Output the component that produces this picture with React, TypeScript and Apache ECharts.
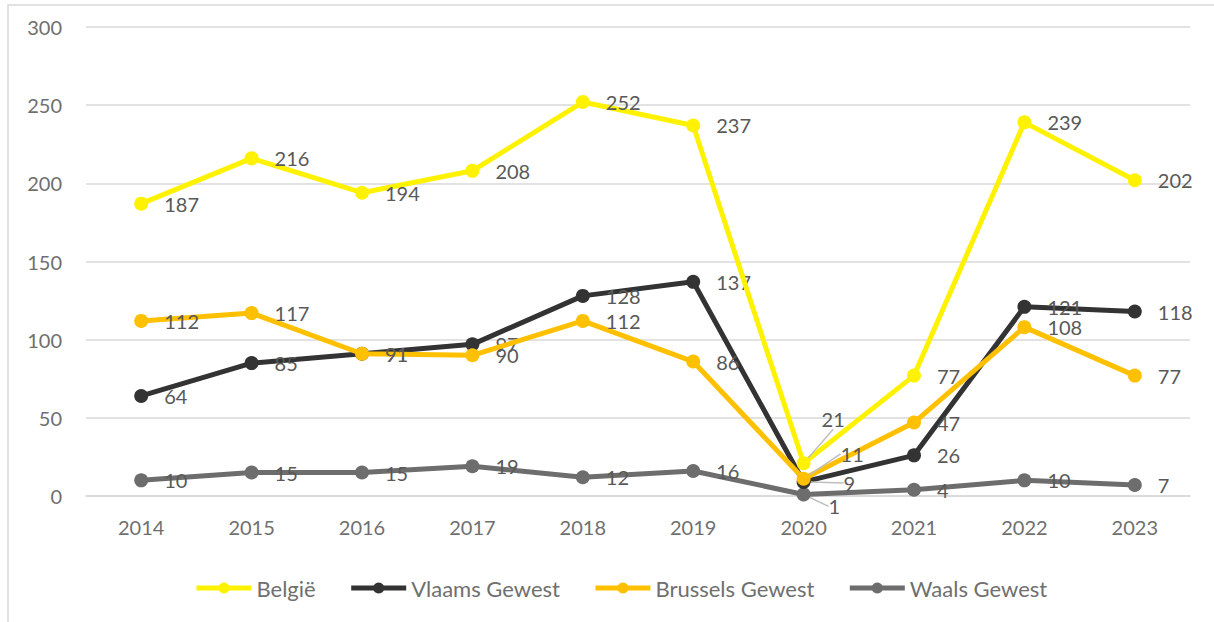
import React, { useEffect, useRef } from "react";
import * as echarts from "echarts";

const years = ["2014", "2015", "2016", "2017", "2018", "2019", "2020", "2021", "2022", "2023"];
const belgie = [187, 216, 194, 208, 252, 237, 21, 77, 239, 202];
const vlaams = [64, 85, 91, 97, 128, 137, 9, 26, 121, 118];
const brussels = [112, 117, 91, 90, 112, 86, 11, 47, 108, 77];
const waals = [10, 15, 15, 19, 12, 16, 1, 4, 10, 7];
const seriesNames = ["België", "Vlaams Gewest", "Brussels Gewest", "Waals Gewest"];
const yTicks = { min: 0, max: 300, interval: 50 };

const FONT = "Lato, 'Open Sans', sans-serif";
const LEADER_INDEX = 6;

export default function App() {
  const ref = useRef<HTMLDivElement>(null);
  useEffect(() => {
    if (!ref.current) return;
    const chart = echarts.init(ref.current, undefined, { renderer: "svg" });

    const mk = (
      name: string,
      data: number[],
      color: string,
      z: number,
      moved: { dx: number; dy: number }
    ) => ({
      name,
      type: "line",
      data: data.map((v, i) =>
        i === LEADER_INDEX ? { value: v, labelLine: { show: true } } : v
      ),
      z,
      symbol: "circle",
      symbolSize: 14,
      lineStyle: { color, width: 5 },
      itemStyle: { color },
      label: {
        show: true,
        position: "right",
        distance: 16,
        offset: [0, 1],
        color: "#595959",
        fontSize: 20,
        fontFamily: FONT,
      },
      labelLine: {
        show: false,
        lineStyle: { color: "#bfbfbf", width: 1.5 },
      },
      labelLayout: (p: any) => {
        if (p.dataIndex === LEADER_INDEX) return { dx: moved.dx, dy: moved.dy };
        return {};
      },
      emphasis: { disabled: true },
    });

    chart.setOption({
      animation: false,
      backgroundColor: "#ffffff",
      textStyle: { fontFamily: FONT },
      grid: { left: 86, right: 24, top: 27, bottom: 126 },
      graphic: [
        {
          type: "rect",
          shape: { x: 8, y: 5, width: 1212, height: 624 },
          style: { fill: "none", stroke: "#d9d9d9", lineWidth: 1.5 },
          silent: true,
        },
      ],
      legend: {
        left: 189,
        top: 572,
        itemWidth: 55,
        itemHeight: 14,
        itemGap: 33,
        lineStyle: { width: 5 },
        textStyle: { color: "#6f6f6f", fontSize: 22, fontFamily: FONT },
        data: seriesNames,
      },
      xAxis: {
        type: "category",
        data: years,
        boundaryGap: true,
        axisTick: { show: false },
        axisLine: { lineStyle: { color: "#d9d9d9", width: 1.5 } },
        axisLabel: { color: "#6f6f6f", fontSize: 20, fontFamily: FONT, margin: 21 },
      },
      yAxis: {
        type: "value",
        min: yTicks.min,
        max: yTicks.max,
        interval: yTicks.interval,
        axisLine: { show: false },
        axisTick: { show: false },
        splitLine: { lineStyle: { color: "#d9d9d9", width: 1.5 } },
        axisLabel: { color: "#6f6f6f", fontSize: 20, fontFamily: FONT, margin: 24 },
      },
      series: [
        mk("Waals Gewest", waals, "#6d6d6d", 2, { dx: 2, dy: 12 }),
        mk("Vlaams Gewest", vlaams, "#333333", 3, { dx: 17, dy: 1 }),
        mk("Brussels Gewest", brussels, "#ffc000", 4, { dx: 14, dy: -25 }),
        mk("België", belgie, "#fff200", 5, { dx: -5, dy: -44 }),
      ],
    });
    return () => chart.dispose();
  }, []);

  return (
    <div
      ref={ref}
      style={{ position: "absolute", left: 0, top: 0, width: 1214, height: 622, background: "#fff" }}
    />
  );
}
